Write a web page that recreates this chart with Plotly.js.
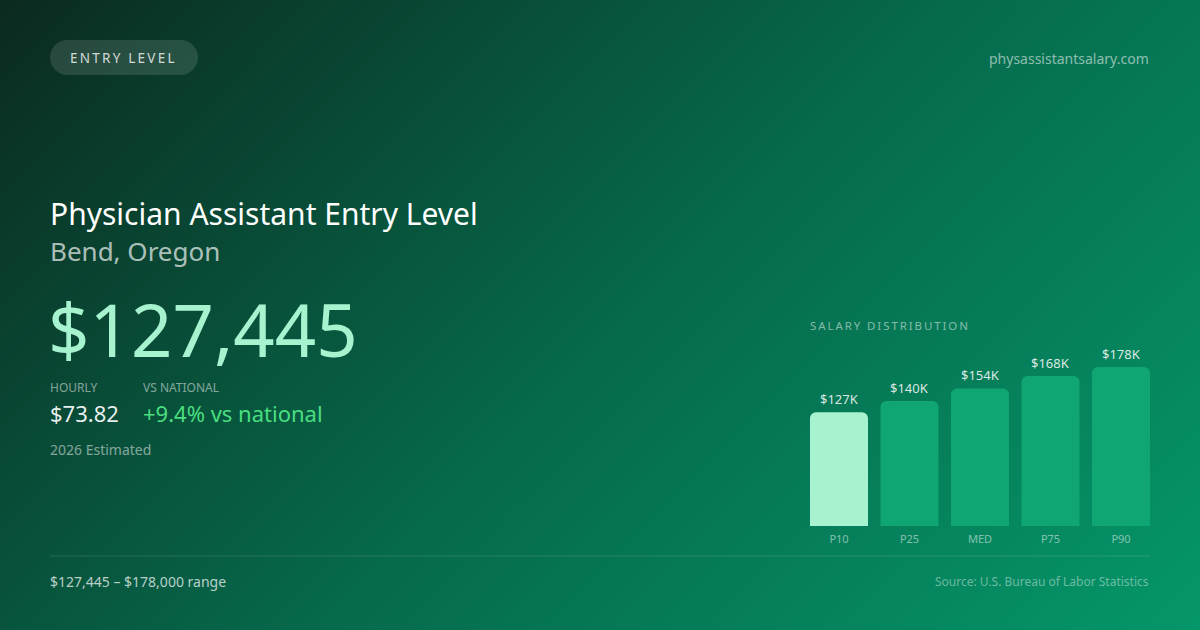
<!DOCTYPE html>
<html>
<head>
<meta charset="utf-8">
<script src="https://cdn.plot.ly/plotly-3.0.1.min.js"></script>
<style>
  html, body { margin: 0; padding: 0; }
  body { width: 1200px; height: 630px; overflow: hidden;
    background: linear-gradient(135deg, #0b2a1f 0%, #066a4c 52%, #059669 100%); }
  #chart { width: 1200px; height: 630px; }
</style>
</head>
<body>
<div id="chart"></div>
<script>
// données du graphique
const percentiles = ['P10', 'P25', 'MED', 'P75', 'P90'];
const salaries = [127445, 140000, 154000, 168000, 178000];
const barColors = ['#a7f3d0', '#0fa673', '#0fa673', '#0fa673', '#0fa673'];

const jobTitle = 'Physician Assistant Entry Level';
const place = 'Bend, Oregon';
const annual = '$127,445';
const hourly = '$73.82';
const vsNational = '+9.4% vs national';
const rangeText = '$127,445 \u2013 $178,000 range';

const W = 1200, H = 630;
// pixels -> coordonnées papier
let px = x => x / W;
let py = y => 1 - y / H;
// espacement des lettres, faute de letter-spacing dans plotly
let spaced = s => s.split('').join('\u2009');

const font = 'Noto Sans, Open Sans, sans-serif';

function txt(x, y, text, size, color, anchor) {
    // petit décalage : plotly ajoute un padding autour des annotations
    let dx = anchor == 'right' ? 2 : (anchor == 'center' ? 0 : -2);
    return {
        xref: 'paper', yref: 'paper', x: px(x + dx), y: py(y),
        text: text, showarrow: false,
        xanchor: anchor || 'left', yanchor: 'middle',
        font: { family: font, size: size, color: color }
    };
}

let annotations = [
    txt(123, 58, spaced('ENTRY LEVEL'), 13.5, 'rgba(255,255,255,0.8)', 'center'),
    txt(1149, 58, 'physassistantsalary.com', 14, 'rgba(255,255,255,0.55)', 'right'),
    txt(50, 213, jobTitle, 30, '#ffffff'),
    txt(50, 251, place, 26, 'rgba(255,255,255,0.68)'),
    txt(48, 328, annual, 72.5, '#a7f3d0'),
    txt(50, 387, 'HOURLY', 12, 'rgba(255,255,255,0.5)'),
    txt(143, 387, 'VS NATIONAL', 12, 'rgba(255,255,255,0.5)'),
    txt(50, 413, hourly, 22, 'rgba(255,255,255,0.92)'),
    txt(143, 413, vsNational, 22, '#4ade80'),
    txt(50, 449, '2026 Estimated', 14, 'rgba(255,255,255,0.5)'),
    txt(810, 325, spaced('SALARY DISTRIBUTION'), 11.5, 'rgba(255,255,255,0.5)'),
    txt(50, 581, rangeText, 14, 'rgba(255,255,255,0.72)'),
    txt(1149, 581, 'Source: U.S. Bureau of Labor Statistics', 12, 'rgba(255,255,255,0.42)', 'right')
];

// étiquettes de valeur au-dessus des barres
percentiles.forEach((p, i) => {
    annotations.push({
        xref: 'x', yref: 'y', x: p, y: salaries[i],
        text: '$' + Math.round(salaries[i] / 1000) + 'K',
        showarrow: false, yanchor: 'bottom', yshift: 2,
        font: { family: font, size: 13, color: 'rgba(255,255,255,0.85)' }
    });
});

// pastille "ENTRY LEVEL" (bouts arrondis en courbes de Bézier)
let l = 50, r = 198, t = 40, b = 75, rad = 17.5, k = rad * 0.5523;
let pill = `M${px(l + rad)},${py(t)} L${px(r - rad)},${py(t)} ` +
    `C${px(r - rad + k)},${py(t)} ${px(r)},${py(t + rad - k)} ${px(r)},${py(t + rad)} ` +
    `C${px(r)},${py(t + rad + k)} ${px(r - rad + k)},${py(b)} ${px(r - rad)},${py(b)} ` +
    `L${px(l + rad)},${py(b)} ` +
    `C${px(l + rad - k)},${py(b)} ${px(l)},${py(t + rad + k)} ${px(l)},${py(t + rad)} ` +
    `C${px(l)},${py(t + rad - k)} ${px(l + rad - k)},${py(t)} ${px(l + rad)},${py(t)} Z`;

let shapes = [
    { type: 'path', xref: 'paper', yref: 'paper', path: pill,
      fillcolor: 'rgba(255,255,255,0.12)', line: { width: 0 } },
    { type: 'line', xref: 'paper', yref: 'paper',
      x0: px(50), x1: px(1150), y0: py(556), y1: py(556),
      line: { color: 'rgba(255,255,255,0.13)', width: 1 } }
];

let data = [{
    type: 'bar',
    x: percentiles,
    y: salaries,
    marker: { color: barColors, cornerradius: 6, line: { width: 0 } },
    hoverinfo: 'skip'
}];

let layout = {
    width: W, height: H,
    margin: { l: 0, r: 0, t: 0, b: 0, pad: 0 },
    paper_bgcolor: 'rgba(0,0,0,0)',
    plot_bgcolor: 'rgba(0,0,0,0)',
    showlegend: false,
    bargap: 0.177,
    xaxis: {
        domain: [px(810), px(1150)],
        range: [-0.4113, 4.4113],
        showgrid: false, zeroline: false, showline: false,
        ticks: '', ticklabelstandoff: 5,
        tickfont: { family: font, size: 11, color: 'rgba(255,255,255,0.5)' },
        fixedrange: true
    },
    yaxis: {
        domain: [1 - 526 / H, 1 - 367 / H],
        range: [0, 178000],
        visible: false, fixedrange: true
    },
    annotations: annotations,
    shapes: shapes
};

Plotly.newPlot('chart', data, layout, { staticPlot: true, displayModeBar: false });
</script>
</body>
</html>
